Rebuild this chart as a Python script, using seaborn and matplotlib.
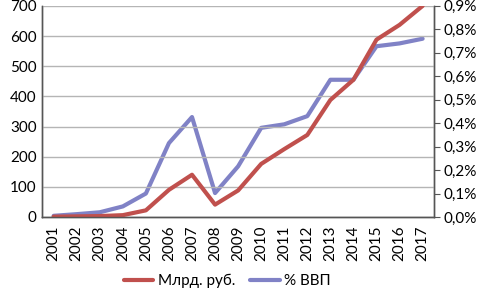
import numpy as np
import pandas as pd
import matplotlib
matplotlib.use('Agg')
import matplotlib.pyplot as plt
import seaborn as sns
from matplotlib.ticker import FuncFormatter, FixedLocator

# данные
years = [str(y) for y in range(2001, 2018)]
rub_bn = [1, 2, 3, 6, 22, 90, 140, 41, 88, 176, 225, 272, 388, 455, 588, 637, 700]
pct_gdp = [0.005, 0.012, 0.02, 0.045, 0.10, 0.315, 0.426, 0.102, 0.216, 0.38, 0.395, 0.43, 0.585, 0.585, 0.728, 0.74, 0.76]

red = '#c0504d'
blue = '#8082c6'

sns.set_style('white')
plt.rcParams['font.family'] = ['Lato', 'DejaVu Sans']
plt.rcParams['text.color'] = 'black'
plt.rcParams['xtick.color'] = 'black'
plt.rcParams['ytick.color'] = 'black'

df = pd.DataFrame({'year': years, 'rub': rub_bn, 'pct': pct_gdp})

fig = plt.figure(figsize=(4.84, 2.94), dpi=100)
ax = fig.add_axes([0.087, 0.262, 0.810, 0.718])
ax2 = ax.twinx()

sns.lineplot(data=df, x='year', y='rub', ax=ax, color=red, lw=3, label='Млрд. руб.', legend=False)
sns.lineplot(data=df, x='year', y='pct', ax=ax2, color=blue, lw=3, label='% ВВП', legend=False)
ax.set_zorder(ax2.get_zorder() + 1)
ax.patch.set_visible(False)

ax.set_xlim(-0.5, len(years) - 0.5)
ax.set_ylim(0, 700)
ax2.set_ylim(0, 0.9)
ax.set_yticks(range(0, 701, 100))
ax2.set_yticks(np.arange(0, 0.91, 0.1))
ax2.yaxis.set_major_formatter(FuncFormatter(lambda v, p: f'{v:.1f}%'.replace('.', ',')))
ax.grid(axis='y', color='#b5b5b5', lw=1)
ax.set_xlabel('')
ax.set_ylabel('')
ax2.set_ylabel('')

ax.xaxis.set_minor_locator(FixedLocator(np.arange(-0.5, len(years), 1)))
ax.tick_params(axis='x', which='major', length=0, labelrotation=90, labelsize=11, pad=6)
ax.tick_params(axis='x', which='minor', length=4, direction='out', color='#555555')
ax.tick_params(axis='y', length=0, labelsize=11, pad=4)
ax2.tick_params(axis='y', length=4, direction='out', color='#555555', labelsize=11, pad=3)

for a in (ax, ax2):
    a.spines['top'].set_visible(False)
    for s in ('left', 'right', 'bottom'):
        a.spines[s].set_color('#555555')
        a.spines[s].set_linewidth(1)

h1, l1 = ax.get_legend_handles_labels()
h2, l2 = ax2.get_legend_handles_labels()
fig.legend(h1 + h2, l1 + l2, loc='center', bbox_to_anchor=(0.47, 0.045), ncol=2,
           frameon=False, fontsize=11, handlelength=1.9, handletextpad=0.3, columnspacing=1.0)

fig.savefig('out.png', dpi=100)
